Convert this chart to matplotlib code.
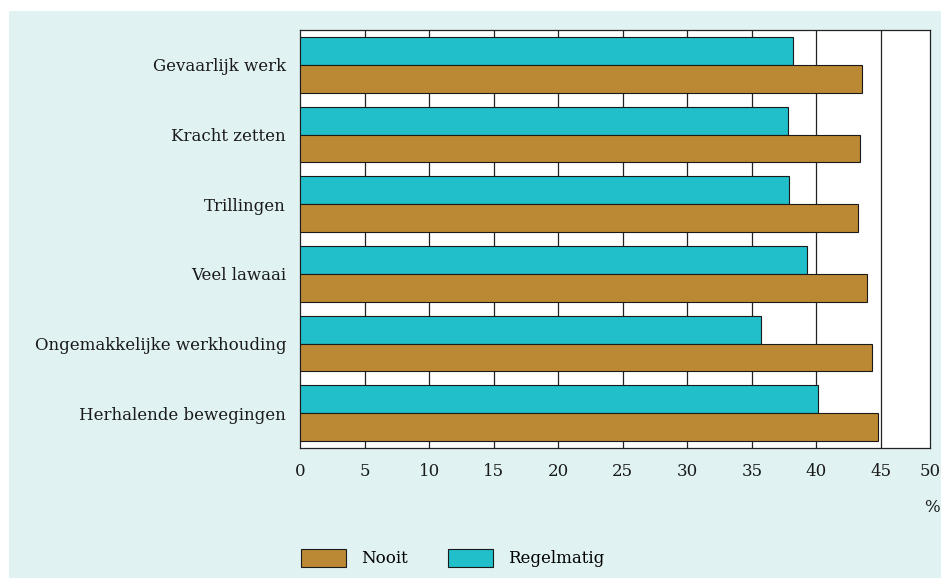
import numpy as np
import matplotlib
matplotlib.use('Agg')
import matplotlib.pyplot as plt
from matplotlib.patches import Rectangle, Patch

# data
categories = ['Gevaarlijk werk', 'Kracht zetten', 'Trillingen', 'Veel lawaai',
              'Ongemakkelijke werkhouding', 'Herhalende bewegingen']
nooit = [43.5, 43.4, 43.2, 43.9, 44.3, 44.8]
regelmatig = [38.2, 37.8, 37.9, 39.3, 35.7, 40.1]
tick_vals = [0, 5, 10, 15, 20, 25, 30, 35, 40, 45, 48.8]
tick_labels = ['0', '5', '10', '15', '20', '25', '30', '35', '40', '45', '50']

col_nooit = '#bb8834'
col_regel = '#20bfc9'
bg = '#e0f2f2'

plt.rcParams['font.family'] = ['DejaVu Serif']
fs = 12

fig = plt.figure(figsize=(9.41, 5.78), dpi=100, facecolor='white')
# lichtblauw paneel
fig.add_artist(Rectangle((9 / 941, 0), 1, 1 - 11 / 578, transform=fig.transFigure,
                         facecolor=bg, edgecolor='none', zorder=-10))

ax = fig.add_axes([300 / 941, 1 - 448 / 578, 630 / 941, 418 / 578])
ax.set_facecolor('white')

y = np.arange(len(categories))
h = 0.4
ax.barh(y - h / 2, regelmatig, height=h, color=col_regel, edgecolor='#1a1a1a',
        linewidth=0.8, zorder=3)
ax.barh(y + h / 2, nooit, height=h, color=col_nooit, edgecolor='#1a1a1a',
        linewidth=0.8, zorder=3)

ax.set_ylim(len(categories) - 0.5, -0.5)
ax.set_xlim(0, 48.8)
ax.set_yticks(y)
ax.set_yticklabels(categories, fontsize=fs, color='#1a1a1a')
ax.set_xticks(tick_vals)
ax.set_xticklabels(tick_labels, fontsize=fs, color='#1a1a1a')
ax.tick_params(axis='both', length=0)
ax.tick_params(axis='y', pad=10)
ax.tick_params(axis='x', pad=11)

for v in tick_vals[1:-1]:
    ax.axvline(v, color='#222222', linewidth=0.9, zorder=1)
for s in ax.spines.values():
    s.set_color('#222222')
    s.set_linewidth(0.9)

fig.text(932 / 941, 1 - 507 / 578, '%', fontsize=fs, ha='center', va='center',
         color='#1a1a1a')

handles = [Patch(facecolor=col_nooit, edgecolor='#1a1a1a', linewidth=0.8),
           Patch(facecolor=col_regel, edgecolor='#1a1a1a', linewidth=0.8)]
fig.legend(handles, ['Nooit', 'Regelmatig'], loc='center left',
           bbox_to_anchor=(301 / 941, 1 - 558 / 578), ncol=2, frameon=False,
           fontsize=fs, handlelength=2.7, handleheight=1.3, handletextpad=0.9,
           columnspacing=2.4, borderpad=0, borderaxespad=0)

plt.savefig('out.png', dpi=100, facecolor='white')
